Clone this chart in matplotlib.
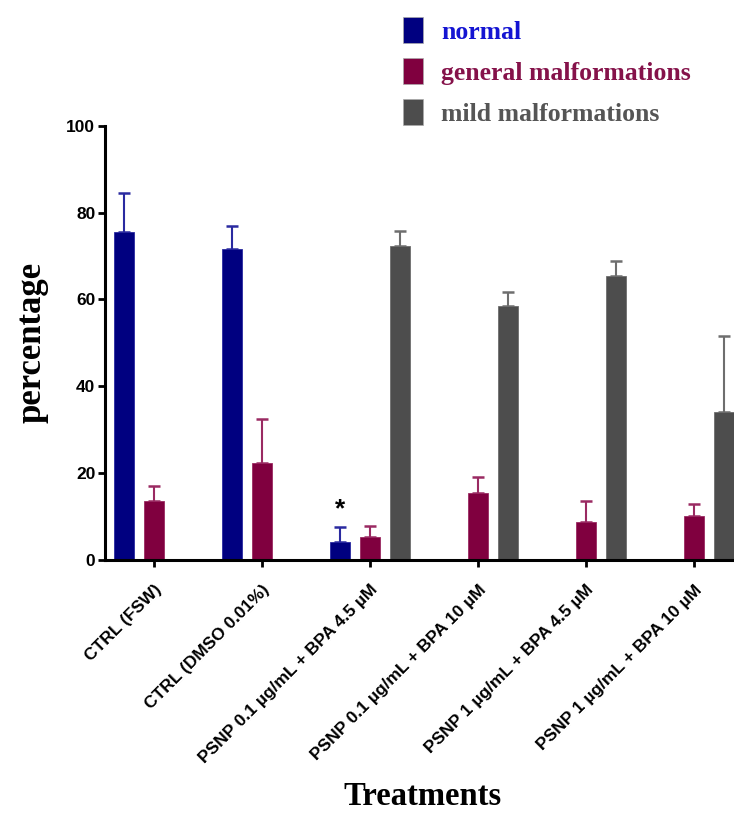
import matplotlib.pyplot as plt
import matplotlib.patches as mpatches
import numpy as np

#%% Dados

tratamentos = ['CTRL (FSW)', 'CTRL (DMSO 0.01%)', 'PSNP 0.1 µg/mL + BPA 4.5 µM',
               'PSNP 0.1 µg/mL + BPA 10 µM', 'PSNP 1 µg/mL + BPA 4.5 µM',
               'PSNP 1 µg/mL + BPA 10 µM']

normal = [75.5, 71.5, 4.1, 0, 0, 0]
normal_err = [8.9, 5.3, 3.4, 0, 0, 0]

geral = [13.7, 22.3, 5.3, 15.5, 8.8, 10.2]
geral_err = [3.3, 10.2, 2.5, 3.5, 4.9, 2.8]

leve = [0, 0, 72.2, 58.4, 65.3, 34.1]
leve_err = [0, 0, 3.6, 3.3, 3.6, 17.5]

nomes = ['normal', 'general malformations', 'mild malformations']
cores = ['#000080', '#80003f', '#4d4d4d']
cores_err = ['#2a2aa0', '#9a2a62', '#6e6e6e']
cores_txt = ['#1414d2', '#85124a', '#555555']

#%% Figura

fig = plt.figure(figsize=(7.34, 8.14), dpi=100)
ax = fig.add_axes([105/734, 1 - 560/814, 1 - 105/734, (560 - 125.7)/814])

x = np.arange(len(tratamentos))
w = 20/108
d = 30/108

series = [(normal, normal_err), (geral, geral_err), (leve, leve_err)]
for k, (vals, errs) in enumerate(series):
    pos = x + (k - 1)*d
    v = np.array(vals)
    e = np.array(errs)
    m = v > 0
    ax.bar(pos[m], v[m], width=w, color=cores[k], edgecolor=cores_err[k],
           linewidth=0.6, zorder=2)
    ax.errorbar(pos[m], v[m], yerr=[np.zeros(m.sum()), e[m]], fmt='none',
                ecolor=cores_err[k], elinewidth=1.5, capsize=4.5, capthick=1.8,
                zorder=1)

# asterisco de significância
ax.text(x[2] - d, normal[2] + normal_err[2] + 1.5, '*', ha='center', va='bottom',
        fontsize=19, fontweight='bold', family='Liberation Sans')

ax.set_xlim(-0.454, 5.37)
ax.set_ylim(0, 100)
ax.set_yticks([0, 20, 40, 60, 80, 100])
ax.set_xticks(x)
ax.set_xticklabels(tratamentos, rotation=45, ha='right', va='top',
                   rotation_mode='anchor', fontsize=12.5, fontweight='bold',
                   family='Liberation Sans')
for t in ax.get_yticklabels():
    t.set_fontsize(12.5)
    t.set_fontweight('bold')
    t.set_family('Liberation Sans')

ax.spines['top'].set_visible(False)
ax.spines['right'].set_visible(False)
ax.spines['left'].set_linewidth(2.2)
ax.spines['bottom'].set_linewidth(2.2)
ax.tick_params(axis='both', width=2, length=5, pad=2)
ax.tick_params(axis='x', pad=11)

ax.set_ylabel('percentage', fontsize=25, fontweight='bold', family='Liberation Serif',
              labelpad=13)
fig.text(422/734, 1 - 812/814, 'Treatments', ha='center', va='bottom',
         fontsize=23.5, fontweight='bold', family='Liberation Serif')

handles = [mpatches.Rectangle((0, 0), 1, 1, facecolor=c, edgecolor='#aaaaaa',
                              linewidth=0.5) for c in cores]
leg = fig.legend(handles, nomes, loc='upper left', bbox_to_anchor=(380/734, 1 + 6/814),
                 frameon=False, handlelength=0.78, handleheight=1.2,
                 handletextpad=0.7, labelspacing=0.55,
                 prop={'family': 'Liberation Serif', 'weight': 'bold', 'size': 18.5},
                 labelcolor=cores_txt)

fig.savefig('out.png', dpi=100)
